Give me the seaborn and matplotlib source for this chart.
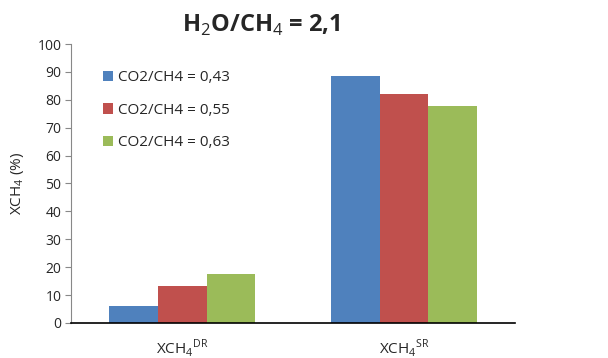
import pandas as pd
import matplotlib
matplotlib.use("Agg")
import matplotlib.pyplot as plt
import seaborn as sns

# data
categories = ["XCH$_4$$^{\\mathrm{DR}}$", "XCH$_4$$^{\\mathrm{SR}}$"]
series_names = ["CO2/CH4 = 0,43", "CO2/CH4 = 0,55", "CO2/CH4 = 0,63"]
vals_043 = [6.2, 88.7]
vals_055 = [13.4, 82.0]
vals_063 = [17.6, 77.8]
colors = ["#4F81BD", "#C0504D", "#9BBB59"]

rows = []
for name, vals in zip(series_names, [vals_043, vals_055, vals_063]):
    for cat, v in zip(categories, vals):
        rows.append({"cat": cat, "series": name, "value": v})
df = pd.DataFrame(rows)

sns.set_style("white")
plt.rcParams['font.family'] = ['Open Sans', 'DejaVu Sans']
plt.rcParams['mathtext.fontset'] = 'custom'
plt.rcParams['mathtext.rm'] = 'Open Sans'

fig = plt.figure(figsize=(6.08, 3.58), dpi=100)
ax = fig.add_axes([0.117, 0.098, 0.730, 0.779])

sns.barplot(data=df, x="cat", y="value", hue="series", palette=colors,
            width=0.66, saturation=1, ax=ax, edgecolor="none")

ax.set_ylim(0, 100)
ax.set_xlim(-0.5, 1.5)
ax.set_yticks(range(0, 101, 10))
ax.tick_params(axis='y', labelsize=10, length=4, color="#888888", direction='out', left=True, pad=3)
ax.tick_params(axis='x', labelsize=11, length=0, pad=10)
ax.set_xlabel("")
ax.set_ylabel("XCH$_4$ (%)", fontsize=11, labelpad=8)

for s in ["top", "right"]:
    ax.spines[s].set_visible(False)
ax.spines["left"].set_color("#888888")
ax.spines["bottom"].set_color("black")
ax.spines["bottom"].set_linewidth(1.2)

fig.text(0.43, 0.93, "H$_2$O/CH$_4$ = 2,1", ha="center", va="center",
         fontsize=17, fontweight="bold")

ax.legend(loc="upper left", bbox_to_anchor=(0.04, 0.955), frameon=False,
          fontsize=11, labelspacing=1.15, handlelength=0.7, handleheight=0.7,
          handletextpad=0.3)

fig.savefig("out.png", dpi=100)
